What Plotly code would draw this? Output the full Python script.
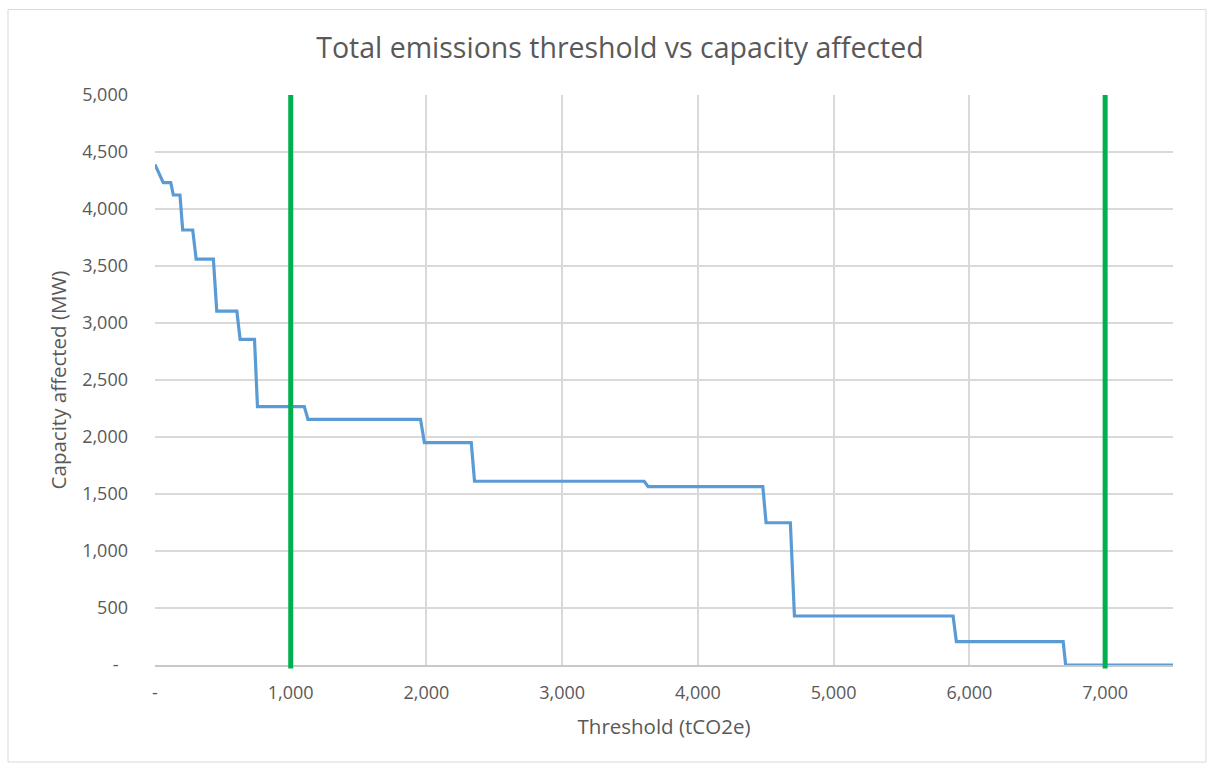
import plotly.graph_objects as go

# Step curve (threshold tCO2e -> capacity MW)
threshold = [0, 61, 116, 135, 184, 204, 278, 303, 430, 455, 603, 627, 733, 755,
             1100, 1127, 1956, 1985, 2330, 2354, 3604, 3633, 4478, 4502, 4681, 4711,
             5880, 5904, 6691, 6709, 7500]
capacity = [4390, 4231, 4231, 4123, 4123, 3816, 3816, 3561, 3561, 3105, 3105, 2857, 2857, 2266,
            2266, 2155, 2155, 1950, 1950, 1612, 1612, 1564, 1564, 1248, 1248, 430,
            430, 205, 205, 0, 0]

markers_x = [1000, 7000]

x_tickvals = [0, 1000, 2000, 3000, 4000, 5000, 6000, 7000]
x_ticktext = ["-", "1,000", "2,000", "3,000", "4,000", "5,000", "6,000", "7,000"]
y_tickvals = [0, 500, 1000, 1500, 2000, 2500, 3000, 3500, 4000, 4500, 5000]
y_ticktext = ["-\u00a0\u00a0", "500", "1,000", "1,500", "2,000", "2,500", "3,000",
              "3,500", "4,000", "4,500", "5,000"]

FONT = "Open Sans"
TXT = "#595959"

fig = go.Figure()
fig.add_trace(go.Scatter(x=threshold, y=capacity, mode="lines",
                         line=dict(color="#5b9bd5", width=3.2), showlegend=False,
                         hoverinfo="skip"))

shapes = []
for xv in markers_x:
    shapes.append(dict(type="line", xref="x", yref="paper", x0=xv, x1=xv, y0=-0.006, y1=1.0,
                       line=dict(color="#00b050", width=5)))
# outer chart border
shapes.append(dict(type="rect", xref="paper", yref="paper",
                   x0=(8 - 155) / 1018, x1=(1206 - 155) / 1018,
                   y0=(665 - 762) / 570, y1=(665 - 9.5) / 570,
                   line=dict(color="#d9d9d9", width=1), layer="below"))

fig.update_layout(
    width=1207, height=764,
    margin=dict(l=155, r=34, t=95, b=99),
    paper_bgcolor="white", plot_bgcolor="white",
    font=dict(family=FONT, color=TXT, size=14),
    title=dict(text="Total emissions threshold vs capacity affected",
               x=(620 - 155) / 1018, xref="paper", xanchor="center",
               y=1 - 48 / 764, yanchor="middle",
               font=dict(family=FONT, size=28.5, color=TXT)),
    shapes=shapes,
)
fig.update_xaxes(range=[0, 7500], tickvals=x_tickvals, ticktext=x_ticktext,
                 showgrid=True, gridcolor="#d9d9d9", gridwidth=2,
                 zeroline=False, showline=True, linecolor="#c8c8c8", linewidth=2,
                 ticks="", ticklabelstandoff=10,
                 tickfont=dict(family=FONT, size=18, color=TXT),
                 title=dict(text="Threshold (tCO2e)", standoff=17,
                            font=dict(family=FONT, size=20.5, color=TXT)))
fig.update_yaxes(range=[0, 5000], tickvals=y_tickvals, ticktext=y_ticktext,
                 showgrid=True, gridcolor="#d9d9d9", gridwidth=2,
                 zeroline=False, showline=False,
                 ticks="", ticklabelstandoff=26,
                 tickfont=dict(family=FONT, size=18, color=TXT),
                 title=dict(text="Capacity affected (MW)", standoff=9,
                            font=dict(family=FONT, size=20.5, color=TXT)))

fig.write_html("out.html")
